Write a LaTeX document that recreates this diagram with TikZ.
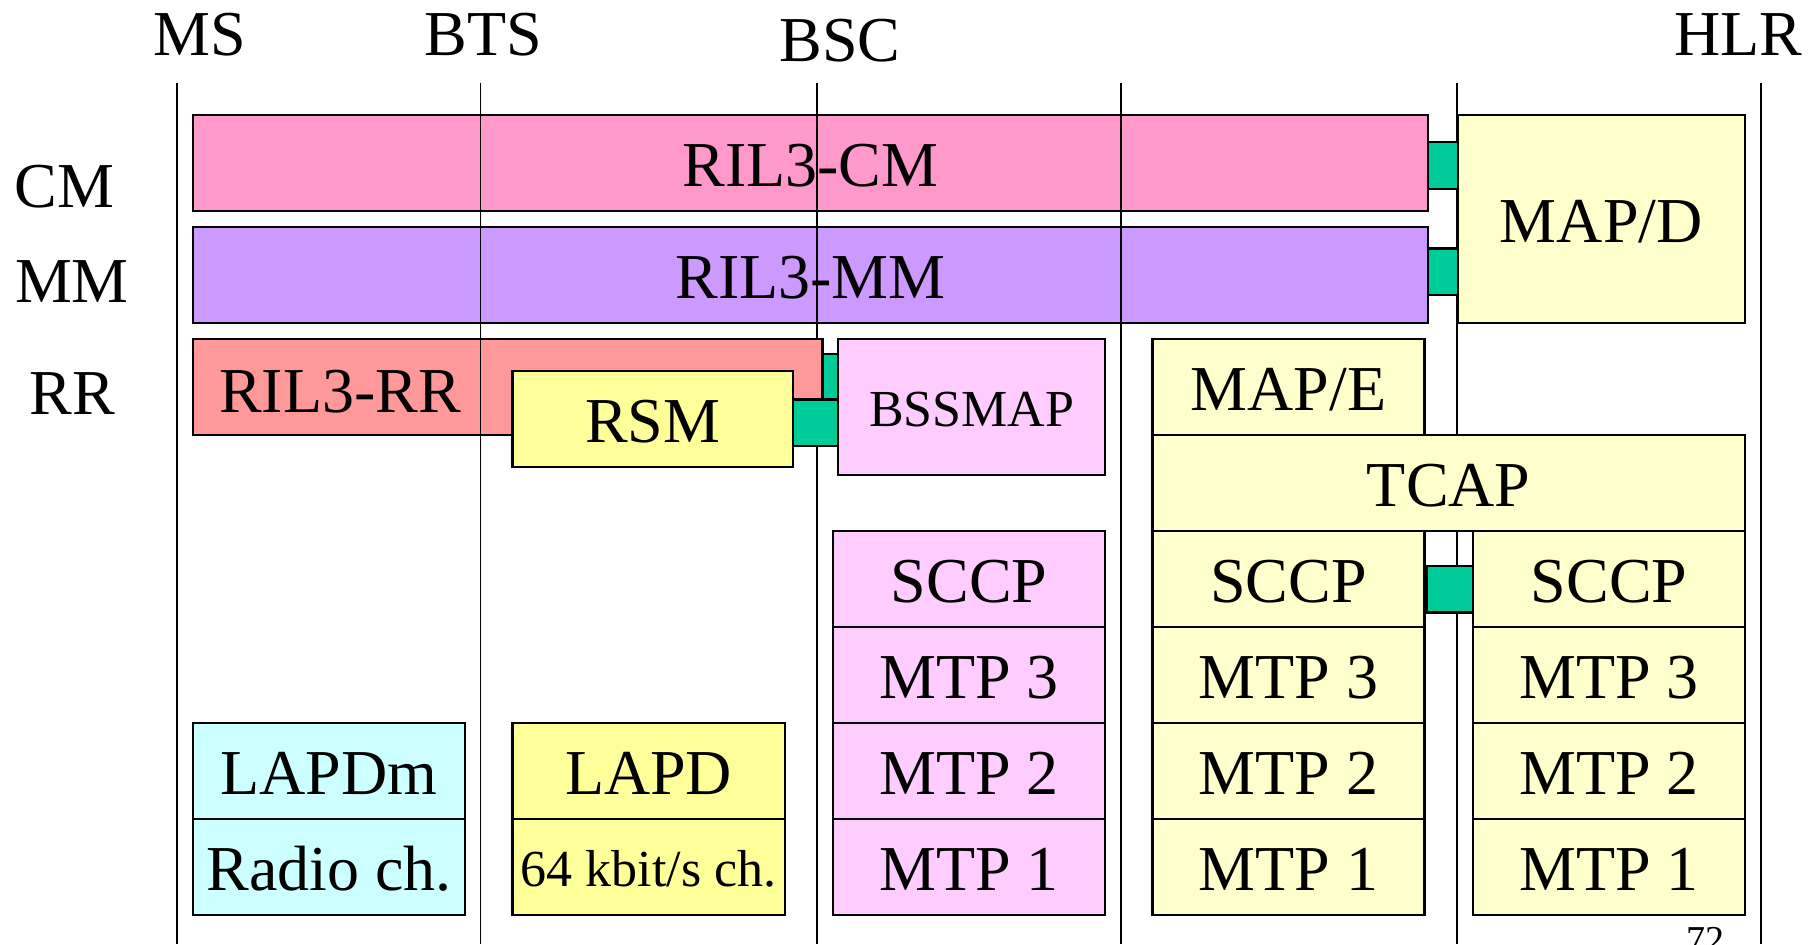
\documentclass[tikz,border=0pt]{standalone}
\usepackage{fontspec}
\setmainfont{Liberation Serif}

\definecolor{cmpink}{HTML}{FF99CC}
\definecolor{mmviolet}{HTML}{CC99FF}
\definecolor{rrsalmon}{HTML}{FF9999}
\definecolor{lemon}{HTML}{FFFF99}
\definecolor{lilac}{HTML}{FFCCFF}
\definecolor{cream}{HTML}{FFFFCC}
\definecolor{teal}{HTML}{00CC99}
\definecolor{aqua}{HTML}{CCFFFF}

% A protocol layer box given by its corner coordinates:
% \layerbox[options]{name}{x1}{y1}{x2}{y2}{text}
\newcommand\layerbox[7][]{%
  \node[layer,#1,
        minimum width={(#5-#3)*0.5pt},
        minimum height={(#6-#4)*0.5pt}]
       (#2) at ({(#3+#5)/2},{(#4+#6)/2}) {#7};}

\tikzset{
  layer/.style={draw, line width=1.15pt, inner sep=0pt, outer sep=0pt,
                font=\fontsize{32}{36}\selectfont,
                text height=23.4pt, text depth=0pt, align=center},
  smalltext/.style={font=\fontsize{26}{30}\selectfont, text height=19.5pt},
  link/.style={layer, fill=teal},
  lifeline/.style={line width=0.8pt},
  heading/.style={anchor=base, inner sep=0pt, font=\fontsize{32}{36}\selectfont},
}

\begin{document}
\begin{tikzpicture}[x=0.5pt,y=-0.5pt]
\useasboundingbox (0,0) rectangle (1814,944);

% entity headings
\node[heading] (hMS)  at (199.5,55)  {MS};
\node[heading] (hBTS) at (483.6,55)  {BTS};
\node[heading] (hBSC) at (840,61.7)  {BSC};
\node[heading] (hHLR) at (1738,55)   {HLR};

% layer names on the left
\node[heading] (lCM) at (64.5,207) {CM};
\node[heading] (lMM) at (72,302)   {MM};
\node[heading] (lRR) at (72.6,414) {RR};

% end-to-end layers (lifelines run across them)
\layerbox[fill=cmpink]{cm}{193}{115.3}{1428}{211.3}{RIL3-CM}
\layerbox[fill=mmviolet]{mm}{193}{227.3}{1428}{323.3}{RIL3-MM}
\layerbox[fill=rrsalmon]{rr}{193}{339.3}{822.5}{435.3}{}
\node[heading] (rrText) at (340,412) {RIL3-RR};

% lifelines
\coordinate (msTop)  at (177,83.3);   \coordinate (msBot)  at (177,944);
\coordinate (btsTop) at (480.5,83.3); \coordinate (btsBot) at (480.5,944);
\coordinate (bscTop) at (817,83.3);   \coordinate (bscBot) at (817,944);
\coordinate (mscTop) at (1121,83.3);  \coordinate (mscBot) at (1121,944);
\coordinate (vlrTop) at (1457,83.3);  \coordinate (vlrBot) at (1457,944);
\coordinate (hlrTop) at (1761,83.3);  \coordinate (hlrBot) at (1761,944);

\draw[lifeline] (msTop) -- (msBot);
\draw[lifeline] (btsTop) -- (btsBot);
\draw[lifeline] (bscTop) -- (bscTop |- rr.north);
\draw[lifeline] (mscTop) -- (mscBot);
\draw[lifeline] (vlrTop) -- (vlrBot);
\draw[lifeline] (hlrTop) -- (hlrBot);

% MAP/D towards the HLR
\layerbox[fill=cream]{mapd}{1457.5}{115.3}{1745}{323.3}{MAP/D}
\layerbox[link]{gCM}{1428}{142.3}{1458}{189}{}
\layerbox[link]{gMM}{1428}{249}{1458}{294.5}{}

% RR at the BTS and BSC
\layerbox[fill=lemon]{rsm}{512.6}{371.3}{792.7}{467.3}{RSM}
\layerbox[link]{gRR}{822.5}{354.3}{838.3}{400}{}
\layerbox[link]{gRSM}{792.7}{400}{838.3}{445.7}{}
\layerbox[fill=lilac, smalltext]{bssmap}{838.3}{339.3}{1105}{475}{BSSMAP}
\draw[lifeline] (bscTop |- gRSM.south) -- (bscBot);

% BSC signalling stack
\layerbox[fill=lilac]{bscSccp}{833}{531.3}{1105}{627.3}{SCCP}
\layerbox[fill=lilac]{bscMtp3}{833}{627.3}{1105}{723.3}{MTP 3}
\layerbox[fill=lilac]{bscMtp2}{833}{723.3}{1105}{819.3}{MTP 2}
\layerbox[fill=lilac]{bscMtp1}{833}{819.3}{1105}{915.3}{MTP 1}

% MSC/VLR side
\layerbox[fill=cream]{mape}{1152.4}{339.3}{1424.6}{435.3}{MAP/E}
\layerbox[fill=cream]{tcap}{1152.4}{435.3}{1745}{531.3}{TCAP}
\layerbox[fill=cream]{aSccp}{1152.4}{531.3}{1424.6}{627.3}{SCCP}
\layerbox[fill=cream]{aMtp3}{1152.4}{627.3}{1424.6}{723.3}{MTP 3}
\layerbox[fill=cream]{aMtp2}{1152.4}{723.3}{1424.6}{819.3}{MTP 2}
\layerbox[fill=cream]{aMtp1}{1152.4}{819.3}{1424.6}{915.3}{MTP 1}
\layerbox[fill=cream]{bSccp}{1473.3}{531.3}{1745}{627.3}{SCCP}
\layerbox[fill=cream]{bMtp3}{1473.3}{627.3}{1745}{723.3}{MTP 3}
\layerbox[fill=cream]{bMtp2}{1473.3}{723.3}{1745}{819.3}{MTP 2}
\layerbox[fill=cream]{bMtp1}{1473.3}{819.3}{1745}{915.3}{MTP 1}
\layerbox[link]{gSccp}{1426.7}{566.7}{1473.3}{611.7}{}

% radio and Abis links
\layerbox[fill=aqua]{lapdm}{193}{723.3}{465}{819.3}{LAPDm}
\layerbox[fill=aqua]{radio}{193}{819.3}{465}{915.3}{Radio ch.}
\layerbox[fill=lemon]{lapd}{512.6}{723.3}{784.7}{819.3}{LAPD}
\layerbox[fill=lemon, smalltext]{abis}{512.6}{819.3}{784.7}{915.3}{64 kbit/s ch.}

% page number, running off the foot of the page
\node[heading, font=\fontsize{19}{22}\selectfont] (page) at (1705,952) {72};
\end{tikzpicture}
\end{document}
